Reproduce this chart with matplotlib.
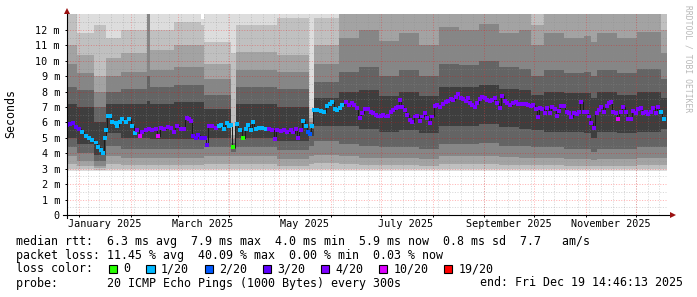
import numpy as np
import matplotlib
matplotlib.use('Agg')
import matplotlib.pyplot as plt
from matplotlib.patches import Rectangle
from datetime import datetime, timedelta

plt.rcParams['font.family'] = 'DejaVu Sans Mono'

# time span: last 360 days up to the end stamp
start = datetime(2024, 12, 24, 14, 46, 13)
span_days = 360

# median rtt readings (day offset from start, ms) and lost pings out of 20
med_day = [
    0.2, 1.8, 3.4, 5.2, 7.2, 9.2, 11.2, 13.2, 15.2, 17.2,
    18.8, 20.2, 21.6, 22.6, 23.6, 24.8, 25.8, 27.2, 29.2, 30.2,
    31.8, 33.2, 35.2, 37.2, 39.2, 40.6, 42.2, 43.8, 45.2, 47.2,
    49.2, 51.2, 53.2, 54.8, 56.2, 58.2, 60.6, 62.2, 64.2, 65.8,
    68.2, 70.2, 71.8, 73.2, 74.2, 75.8, 77.2, 78.8, 80.6, 82.6,
    83.8, 85.2, 87.2, 89.2,
    91.2, 92.6, 94.2, 95.8, 97.2, 98.6, 99.8, 101.8, 103.8, 105.8,
    107.2, 108.8, 110.2, 111.6, 113.2, 115.2, 117.2, 119.2, 121.2, 123.2,
    124.8, 126.2, 128.2, 130.2, 132.2, 134.2, 135.8, 137.2, 138.6, 140.2,
    141.8, 143.2, 144.6, 145.8, 147.2, 148.2, 150.2, 152.2, 154.2, 156.2,
    157.8, 159.2, 160.6, 162.2, 163.8, 165.2, 167.2, 169.2, 170.8, 172.2,
    173.8, 175.6, 177.2, 178.6,
    180.6, 182.2, 183.8, 185.2, 186.6, 188.2, 189.8, 191.2, 192.6, 194.2,
    195.8, 197.2, 198.6, 199.8, 201.2, 202.6, 204.2, 205.8, 207.2, 208.6,
    210.2, 211.8, 213.2, 214.8, 216.2, 217.8, 219.2, 220.6, 222.2, 223.8,
    225.4, 227.2, 228.6, 230.2, 231.8, 233.2, 234.6, 236.2, 237.8, 239.2,
    240.6, 241.8, 243.2, 244.6, 246.2, 247.8, 249.2, 250.6, 252.2, 253.8,
    255.2, 256.6, 258.2, 259.8, 261.2, 262.6, 264.2, 265.8, 267.8,
    269.2, 270.6, 272.2, 273.8, 275.2, 276.6, 278.2, 279.8, 281.2, 282.6,
    283.8, 285.2, 286.6, 288.2, 289.8, 291.2, 292.6, 293.8, 295.2, 296.6,
    298.2, 299.8, 301.2, 302.6, 304.2, 305.8, 307.2, 308.6, 310.2, 311.8,
    313.2, 314.6, 316.2, 317.8, 319.2, 320.6, 322.2, 323.8, 325.2, 326.6,
    327.8, 329.2, 330.6, 332.2, 333.8, 335.2, 336.6, 338.2, 339.8, 341.2,
    342.6, 344.2, 345.8, 347.2, 348.6, 350.2, 351.8, 353.2, 354.6, 356.2,
    358.2,
]
med_ms = [
    5.85, 5.9, 5.95, 5.7, 5.6, 5.4, 5.1, 5.0, 4.85, 4.7,
    4.4, 4.2, 4.05, 5.0, 5.5, 6.4, 6.4, 6.05, 5.95, 5.75,
    6.05, 6.25, 6.05, 6.2, 5.75, 5.3, 5.5, 5.1, 5.4, 5.5,
    5.6, 5.5, 5.6, 5.15, 5.65, 5.6, 5.7, 5.65, 5.4, 5.8,
    5.6, 5.6, 6.3, 6.2, 6.1, 5.1, 5.0, 5.2, 5.0, 5.0,
    4.55, 5.75, 5.8, 5.65,
    5.75, 5.85, 5.6, 5.95, 5.75, 5.85, 4.43, 5.88, 5.5, 5.0,
    5.6, 5.85, 5.5, 6.05, 5.6, 5.65, 5.65, 5.6, 5.6, 5.5,
    4.95, 5.5, 5.45, 5.5, 5.4, 5.5, 5.35, 5.6, 5.0, 5.5,
    6.1, 5.75, 5.4, 5.25, 5.75, 6.8, 6.8, 6.75, 6.65, 7.05,
    7.2, 7.35, 6.9, 6.8, 6.95, 7.15, 7.3, 7.15, 7.25, 7.15,
    6.95, 6.27, 6.6, 6.9,
    6.85, 6.7, 6.6, 6.5, 6.39, 6.44, 6.5, 6.39, 6.44, 6.7,
    6.81, 6.92, 7.02, 7.46, 7.02, 6.81, 6.5, 6.16, 6.05, 6.39,
    6.44, 6.12, 6.39, 6.6, 6.27, 5.99, 6.39, 7.07, 7.13, 6.98,
    7.2, 7.35, 7.41, 7.5, 7.46, 7.63, 7.84, 7.56, 7.5, 7.41,
    7.56, 7.24, 7.13, 7.02, 7.24, 7.5, 7.63, 7.56, 7.46, 7.41,
    7.46, 7.56, 7.28, 6.92, 7.73, 7.41, 7.24, 7.13, 7.28,
    7.35, 7.2, 7.2, 7.2, 7.2, 7.13, 7.07, 7.13, 6.85, 6.33,
    6.92, 6.85, 6.6, 6.92, 6.6, 7.02, 6.85, 6.44, 6.77, 7.07,
    7.07, 6.7, 6.6, 6.33, 6.6, 6.55, 6.7, 7.35, 6.66, 6.7,
    6.39, 5.99, 5.62, 6.6, 6.81, 7.02, 6.7, 7.07, 7.28, 7.35,
    6.7, 6.6, 6.2, 6.7, 7.02, 6.7, 6.2, 6.2, 6.77, 6.6,
    6.85, 6.92, 6.6, 6.7, 6.55, 6.7, 6.92, 6.6, 7.02, 6.66,
    6.2,
]
med_loss = [
    3, 3, 3, 3, 3,
    1, 1, 1, 1, 1, 1, 1, 1, 1, 1,
    1, 1, 1, 1, 1, 1, 1, 1, 1, 1,
    1, 4, 10, 4, 4, 4, 4, 4, 10,
    4, 4, 4, 4, 4, 4, 4, 4, 4, 4, 4,
    3, 3, 3, 3, 3, 3,
    4, 4, 4,
    1, 1, 1, 1, 1, 1, 0, 1, 1, 0,
    1, 1, 1, 1, 1, 1, 1, 1,
    4, 4, 4, 4, 4, 4, 4, 4, 4, 4, 4, 4,
    1, 1, 2, 2,
    1, 1, 1, 1, 1, 1, 1, 1, 1, 1, 1, 1,
    4, 4, 4, 4, 4, 4, 4, 4,
    4, 4, 4, 4, 4, 4, 4, 4, 4, 4,
    4, 4, 4, 4, 4, 4, 4, 4, 4, 4,
    4, 4, 4, 4, 4, 4, 4, 4, 4, 4,
    4, 4, 4, 4, 4, 4, 4, 4, 4, 4,
    4, 4, 4, 4, 4, 4, 4, 4, 4, 4,
    4, 4, 4, 4, 4, 4, 4, 4, 4,
    4, 4, 4, 4, 4, 4, 4, 4, 4, 4,
    4, 4, 4, 4, 4, 4, 4, 4, 4, 4,
    4, 4, 4, 4, 4, 4, 4, 4, 4, 4,
    4, 4, 4, 4, 4, 4, 4, 4, 4, 4,
    4, 4, 10, 4, 4, 4, 4, 4, 4, 4,
    4, 4, 4, 4, 4, 4, 4, 4, 4, 1,
    1,
]

# smoke: start day of each segment and the ping spread levels (ms)
seg_day = [0, 6, 16.2, 23.4, 32.4, 48, 49.8, 64.2, 80.4, 82.2,
           98.4, 101.4, 126, 145.2, 148.2, 163.2, 175, 187, 199, 211,
           223, 235, 247, 259, 271, 278.4, 286.2, 298, 310, 314.4,
           318, 330, 342, 356.4]
u1 = [13.5, 13.5, 13.5, 13.5, 13.5, 13.5, 13.5, 13.5, 12.7, 13.5,
      13.5, 13.5, 13.5, 13.5, 13.5, 13.5, 13.5, 13.5, 13.5, 13.5,
      13.5, 13.5, 13.5, 13.5, 13.5, 13.5, 13.5, 13.5, 13.5, 13.5,
      13.5, 13.5, 13.5, 13.5]
u2 = [13.5, 11.8, 12.3, 11.5, 12.0, 13.5, 12.0, 12.5, 12.3, 11.2,
      10.5, 12.3, 12.8, 6.9, 12.8, 13.5, 13.5, 13.5, 13.5, 13.5,
      13.5, 13.5, 13.5, 13.5, 13.5, 13.5, 13.5, 13.5, 13.5, 13.5,
      13.5, 13.5, 13.5, 13.5]
u3 = [11.0, 10.4, 9.0, 10.2, 10.5, 13.5, 10.7, 11.0, 11.0, 9.8,
      5.2, 10.6, 10.4, 6.3, 11.0, 13.5, 13.5, 13.5, 13.5, 13.5,
      13.5, 13.5, 13.5, 13.5, 13.5, 12.3, 13.5, 13.5, 13.5, 13.5,
      13.5, 13.5, 13.5, 12.0]
u4 = [9.8, 9.2, 8.0, 9.0, 9.3, 13.5, 9.4, 9.6, 9.6, 8.8,
      4.9, 9.4, 9.3, 6.0, 9.8, 11.5, 12.0, 11.3, 11.8, 11.0,
      12.2, 12.0, 12.4, 11.8, 12.0, 11.0, 11.8, 11.5, 11.6, 11.2,
      11.8, 11.5, 11.9, 10.5]
u5 = [8.3, 8.1, 7.0, 8.0, 8.2, 9.0, 8.3, 8.4, 8.4, 7.8,
      4.7, 8.3, 8.2, 5.8, 8.6, 9.3, 9.6, 9.0, 9.4, 9.0,
      9.8, 9.7, 10.0, 9.6, 9.5, 9.0, 9.4, 9.2, 9.3, 9.0,
      9.4, 9.2, 9.5, 8.8]
u6 = [7.2, 7.0, 6.0, 7.2, 7.2, 7.4, 7.2, 7.3, 7.3, 6.9,
      4.55, 7.2, 7.0, 5.6, 7.6, 8.0, 8.1, 7.7, 8.0, 7.7,
      8.3, 8.3, 8.4, 8.2, 8.1, 7.8, 8.0, 7.9, 7.9, 7.6,
      8.0, 7.8, 8.0, 7.6]
l6 = [5.0, 4.6, 3.9, 5.3, 5.0, 5.0, 4.9, 4.9, 4.9, 5.0,
      4.3, 5.0, 4.8, 5.1, 5.8, 5.8, 5.6, 5.4, 5.5, 5.3,
      5.8, 5.8, 5.9, 5.7, 5.6, 5.5, 5.4, 5.4, 5.3, 5.0,
      5.4, 5.3, 5.4, 5.6]
l5 = [4.4, 4.0, 3.5, 4.5, 4.3, 4.3, 4.3, 4.3, 4.3, 4.4,
      4.1, 4.4, 4.2, 4.5, 4.8, 4.6, 4.5, 4.4, 4.4, 4.3,
      4.6, 4.6, 4.7, 4.5, 4.5, 4.4, 4.4, 4.3, 4.3, 4.1,
      4.3, 4.3, 4.4, 4.4]
l4 = [3.8, 3.5, 3.2, 3.8, 3.7, 3.7, 3.7, 3.7, 3.7, 3.8,
      3.8, 3.8, 3.6, 3.8, 3.9, 3.8, 3.7, 3.7, 3.7, 3.65,
      3.8, 3.8, 3.85, 3.75, 3.7, 3.7, 3.7, 3.65, 3.65, 3.55,
      3.65, 3.65, 3.7, 3.7]
l3 = [3.3, 3.15, 3.05, 3.3, 3.25, 3.25, 3.25, 3.25, 3.25, 3.3,
      3.3, 3.3, 3.2, 3.3, 3.35, 3.3, 3.25, 3.25, 3.25, 3.2,
      3.3, 3.3, 3.3, 3.25, 3.25, 3.25, 3.25, 3.2, 3.2, 3.15,
      3.2, 3.2, 3.25, 3.25]
l2 = [3.0, 2.97, 2.95, 3.0, 2.98, 2.98, 2.98, 2.98, 2.98, 3.0,
      3.0, 3.0, 2.98, 3.0, 3.0, 3.0, 3.0, 3.0, 3.0, 3.0,
      3.0, 3.0, 3.0, 3.0, 3.0, 3.0, 3.0, 3.0, 3.0, 3.0,
      3.0, 3.0, 3.0, 3.0]
l1 = [2.85, 2.85, 2.85, 2.85, 2.85, 2.85, 2.85, 2.85, 2.85, 2.85,
      2.85, 2.85, 2.85, 2.85, 2.87, 2.88, 2.88, 2.88, 2.88, 2.88,
      2.88, 2.88, 2.88, 2.88, 2.88, 2.88, 2.88, 2.88, 2.88, 2.88,
      2.88, 2.88, 2.88, 2.88]

# outer pair lightest, inner pair darkest
smoke_shades = ['#dddddd', '#c0c0c0', '#a3a3a3', '#868686', '#646464', '#3e3e3e']

loss_colors = {0: '#26ff00', 1: '#00b8ff', 2: '#0059ff', 3: '#5e00ff',
               4: '#7e00ff', 10: '#dd00ff', 19: '#ff0000'}
legend_loss = ['0', '1/20', '2/20', '3/20', '4/20', '10/20', '19/20']
legend_keys = [0, 1, 2, 3, 4, 10, 19]

y_ticks = [0, 1, 2, 3, 4, 5, 6, 7, 8, 9, 10, 11, 12]
y_labels = ['0'] + ['%d m' % v for v in y_ticks[1:]]
month_labels = ['January 2025', 'March 2025', 'May 2025',
                'July 2025', 'September 2025', 'November 2025']


def day_of(dt):
    return (dt - start).total_seconds() / 86400.0


month_days = [day_of(datetime(2025, m, 1)) for m in range(1, 13)]
label_days = [day_of(datetime(2025, m, 16)) for m in (1, 3, 5, 7, 9, 11)]
week_days = []
wk = datetime(2024, 12, 30)
while day_of(wk) < span_days:
    week_days.append(day_of(wk))
    wk += timedelta(days=7)

W, H = 697, 297
fig = plt.figure(figsize=(W / 100, H / 100), dpi=100)
fig.patch.set_facecolor('white')
ax = fig.add_axes([67 / W, (H - 215) / H, 600 / W, 201 / H])
ax.set_xlim(0, span_days)
ytop = 201 / 15.42
ax.set_ylim(0, ytop)
ax.set_facecolor('white')
for s in ax.spines.values():
    s.set_visible(False)

# smoke bands
edges = np.append(seg_day, span_days)
lows = [l1, l2, l3, l4, l5, l6]
highs = [u1, u2, u3, u4, u5, u6]
for lo, hi, shade in zip(lows, highs, smoke_shades):
    ax.fill_between(edges, np.append(lo, lo[-1]), np.append(hi, hi[-1]),
                    step='post', color=shade, lw=0, zorder=1)

# dotted grid on top of the smoke
dot = (0, (1, 1.6))
minor_c = [(0.55, 0.55, 0.55, 0.35)]
major_c = [(1, 0, 0, 0.3)]
grid_kw = dict(linestyles=[dot], lw=0.72, zorder=2)
ax.vlines(week_days, 0, ytop, colors=minor_c, **grid_kw)
ax.hlines(np.arange(0.5, 13, 1.0), 0, span_days, colors=minor_c, **grid_kw)
ax.vlines(month_days, 0, ytop, colors=major_c, **grid_kw)
ax.hlines(y_ticks[1:], 0, span_days, colors=major_c, **grid_kw)

# median
ax.plot(med_day, med_ms, drawstyle='steps-mid', color='#1a1a1a', lw=0.7, zorder=3)
ax.scatter(med_day, med_ms, marker='s', s=8, c=[loss_colors[v] for v in med_loss],
           linewidths=0, zorder=4)

# axes lines with arrows
ax.plot([-4 / 600, 606 / 600], [0, 0], color='black', lw=0.8, transform=ax.transAxes, clip_on=False, zorder=5)
ax.plot([606 / 600], [0], marker='>', color='#9b1010', markersize=4, transform=ax.transAxes,
        clip_on=False, zorder=6, markeredgewidth=0)
ax.plot([0, 0], [-3 / 201, 204 / 201], color='black', lw=0.8, transform=ax.transAxes, clip_on=False, zorder=5)
ax.plot([0], [204 / 201], marker='^', color='#9b1010', markersize=4, transform=ax.transAxes,
        clip_on=False, zorder=6, markeredgewidth=0)

ax.set_yticks(y_ticks)
ax.set_yticklabels(y_labels)
ax.tick_params(axis='y', length=1.5, width=0.7, pad=3.6, labelsize=7.3)
ax.set_xticks(month_days)
ax.set_xticklabels([])
ax.set_xticks(label_days, minor=True)
ax.set_xticklabels(month_labels, minor=True)
ax.tick_params(axis='x', which='major', length=1.5, width=0.7)
ax.tick_params(axis='x', which='minor', length=0, pad=3.2, labelsize=7.3)

fig.text(11 / W, 1 - 114 / H, 'Seconds', rotation=90, ha='center', va='center', fontsize=8.4)
fig.text(688 / W, 1 - 5 / H, 'RRDTOOL / TOBI OETIKER', rotation=270, ha='center', va='top',
         fontsize=5.8, color='#b8b8b8')

# legend block
rows = [241, 255, 269, 283]
fig.text(16 / W, 1 - rows[0] / H,
         'median rtt:  6.3 ms avg  7.9 ms max  4.0 ms min  5.9 ms now  0.8 ms sd  7.7   am/s',
         va='center', fontsize=8.4)
fig.text(16 / W, 1 - rows[1] / H,
         'packet loss: 11.45 % avg  40.09 % max  0.00 % min  0.03 % now',
         va='center', fontsize=8.4)
fig.text(16 / W, 1 - rows[2] / H, 'loss color:', va='center', fontsize=8.4)
box_x = [108.5, 146, 204.5, 262.5, 320.5, 378.6, 444]
for bx, key, lbl in zip(box_x, legend_keys, legend_loss):
    fig.patches.append(Rectangle((bx / W, 1 - (rows[2] + 4.3) / H), 8.5 / W, 8.5 / H,
                                 transform=fig.transFigure, facecolor=loss_colors[key],
                                 edgecolor='black', lw=0.8))
    fig.text((bx + 15) / W, 1 - rows[2] / H, lbl, va='center', fontsize=8.4)
fig.text(16 / W, 1 - rows[3] / H, 'probe:       20 ICMP Echo Pings (1000 Bytes) every 300s',
         va='center', fontsize=8.4)
fig.text(480 / W, 1 - rows[3] / H, 'end: Fri Dec 19 14:46:13 2025', va='center', fontsize=8.4)

fig.savefig('out.png', dpi=100, facecolor='white')
